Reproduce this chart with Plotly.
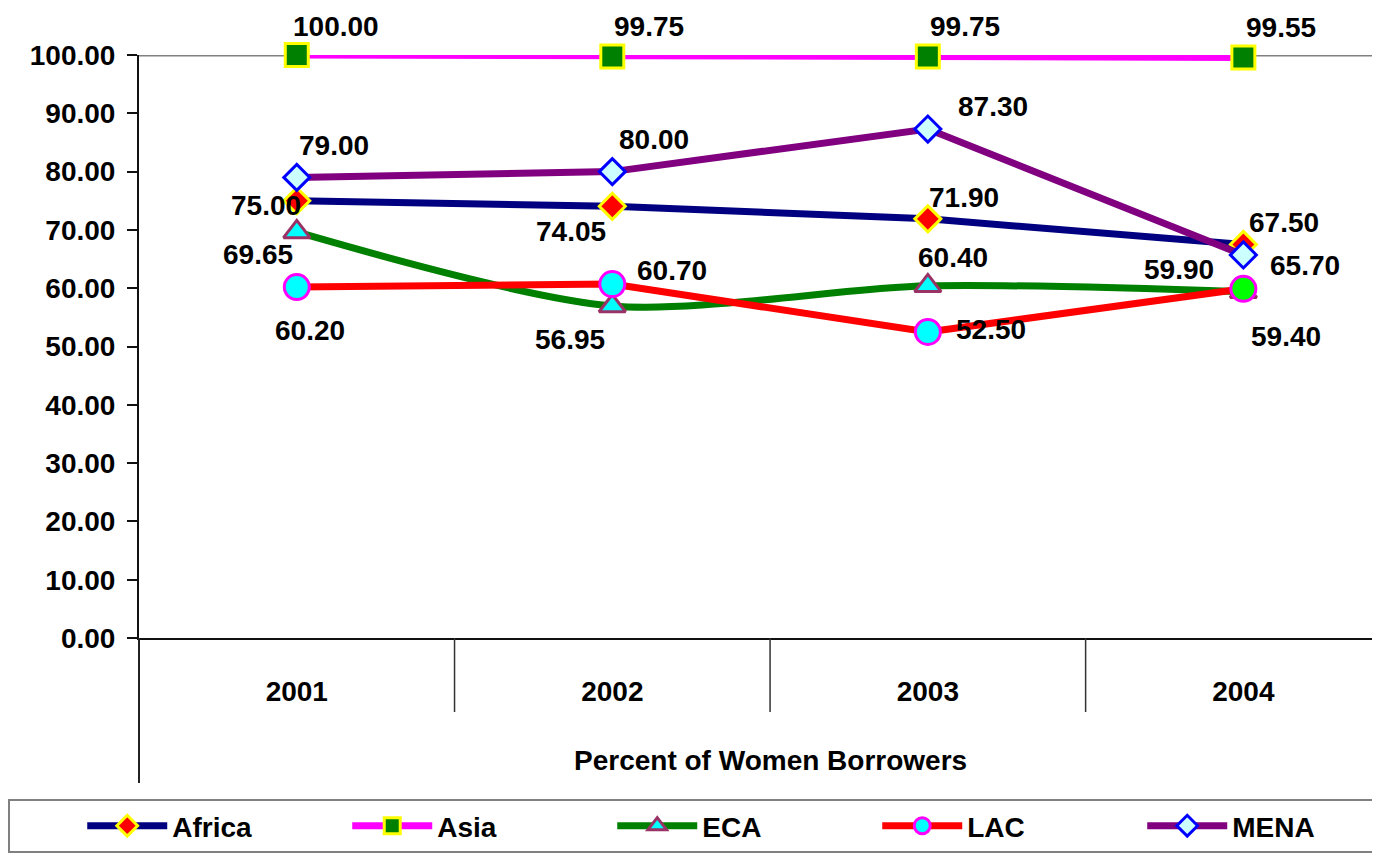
import plotly.graph_objects as go

years = ["2001", "2002", "2003", "2004"]
africa = [75.00, 74.05, 71.90, 67.50]
asia = [100.00, 99.75, 99.75, 99.55]
eca = [69.65, 56.95, 60.40, 59.40]
lac = [60.20, 60.70, 52.50, 59.90]
mena = [79.00, 80.00, 87.30, 65.70]
y_ticks = [0, 10, 20, 30, 40, 50, 60, 70, 80, 90, 100]
x_title = "Percent of Women Borrowers"

# The page body adds an 8px offset; lay out in screen pixels minus that offset.
OFF = 8
W, H = 1380 - OFF, 860 - OFF


def px(v):
    return (v - OFF) / W


def py(v):
    return (H - (v - OFF)) / H


PL, PT, PB = 139, 55, 638  # plot area in screen pixels

FONT = "Liberation Sans, Arial, sans-serif"
FS = 28

series = [
    dict(name="Africa", y=africa, line="#000080", symbol="diamond", size=20,
         fill="#FF0000", edge="#FFFF00", shape="linear",
         offs=[(-31, 5), (-41, 25), (36, -21), (41, -22)]),
    dict(name="Asia", y=asia, line="#FF00FF", symbol="square", size=23,
         fill="#008000", edge="#FFFF00", shape="linear",
         offs=[(39, -28), (37, -30), (37, -30), (38, -30)]),
    dict(name="ECA", y=eca, line="#008000", symbol="triangle-up", size=23,
         fill="#00FFFF", edge="#993366", shape="spline",
         offs=[(-39, 23), (-42, 34), (25, -28), (43, 45)]),
    dict(name="LAC", y=lac, line="#FF0000", symbol="circle", size=25,
         fill=["#00FFFF", "#00FFFF", "#00FFFF", "#00FF00"], edge="#FF00FF", shape="linear",
         offs=[(13, 43), (60, -14), (63, -2), (-64, -19)]),
    dict(name="MENA", y=mena, line="#800080", symbol="diamond", size=20,
         fill="#CCFFFF", edge="#0000FF", shape="linear",
         offs=[(37, -32), (42, -32), (65, -23), (62, 11)]),
]

fig = go.Figure()
annotations = []
for s in series:
    fig.add_trace(go.Scatter(
        x=years, y=s["y"], name=s["name"], mode="lines+markers",
        line=dict(color=s["line"], width=7, shape=s["shape"], smoothing=0.8),
        marker=dict(symbol=s["symbol"], size=s["size"], color=s["fill"],
                    line=dict(color=s["edge"], width=3)),
        cliponaxis=False,
    ))
    for i, (yv, (dx, dy)) in enumerate(zip(s["y"], s["offs"])):
        annotations.append(dict(
            x=i, y=yv, xref="x", yref="y", text=f"{yv:.2f}", showarrow=False,
            xanchor="center", yanchor="middle", xshift=dx, yshift=-dy,
            font=dict(family=FONT, size=FS, color="black", weight="bold"),
        ))

annotations.append(dict(
    x=1.5, y=py(760), xref="x", yref="paper", text=x_title, showarrow=False,
    xanchor="center", yanchor="middle",
    font=dict(family=FONT, size=FS, color="black", weight="bold"),
))

shapes = [
    # top border line at 100
    dict(type="line", xref="paper", yref="y", x0=px(PL), x1=1, y0=100, y1=100,
         line=dict(color="#808080", width=3), layer="below"),
    # left axis extension below the plot
    dict(type="line", xref="paper", yref="paper", x0=px(PL), x1=px(PL),
         y0=py(PB), y1=py(783), line=dict(color="#222222", width=2)),
]
for xb in [0.5, 1.5, 2.5]:
    shapes.append(dict(type="line", xref="x", yref="paper", x0=xb, x1=xb,
                       y0=py(PB), y1=py(712),
                       line=dict(color="#333333", width=1.5)))

fig.update_layout(
    width=W, height=H,
    margin=dict(l=0, r=0, t=0, b=0),
    paper_bgcolor="white", plot_bgcolor="white",
    font=dict(family=FONT, size=FS, color="black", weight="bold"),
    xaxis=dict(domain=[px(PL), 1], type="category", range=[-0.5, 3.433],
               showgrid=False, zeroline=False, showline=True, linecolor="#111111",
               linewidth=2, ticks="", ticklabelstandoff=27, automargin=False,
               tickfont=dict(family=FONT, size=FS, color="black", weight="bold")),
    yaxis=dict(domain=[py(PB), py(PT)], range=[0, 100], tickvals=y_ticks,
               tickformat=".2f", showgrid=False, zeroline=False, showline=True,
               linecolor="#111111", linewidth=2, ticks="outside", ticklen=10,
               tickcolor="#111111", tickwidth=2, ticklabelstandoff=6, automargin=False,
               tickfont=dict(family=FONT, size=FS, color="black", weight="bold")),
    showlegend=True,
    legend=dict(orientation="h", x=px(10), y=py(799), xanchor="left", yanchor="top",
                bordercolor="#808080", borderwidth=2, bgcolor="white",
                entrywidth=170, entrywidthmode="pixels", itemwidth=80,
                title=dict(text="&nbsp;" * 8, side="left",
                           font=dict(family=FONT, size=FS)),
                font=dict(family=FONT, size=FS, color="black", weight="bold")),
    shapes=shapes,
    annotations=annotations,
)

fig.write_html("out.html")
